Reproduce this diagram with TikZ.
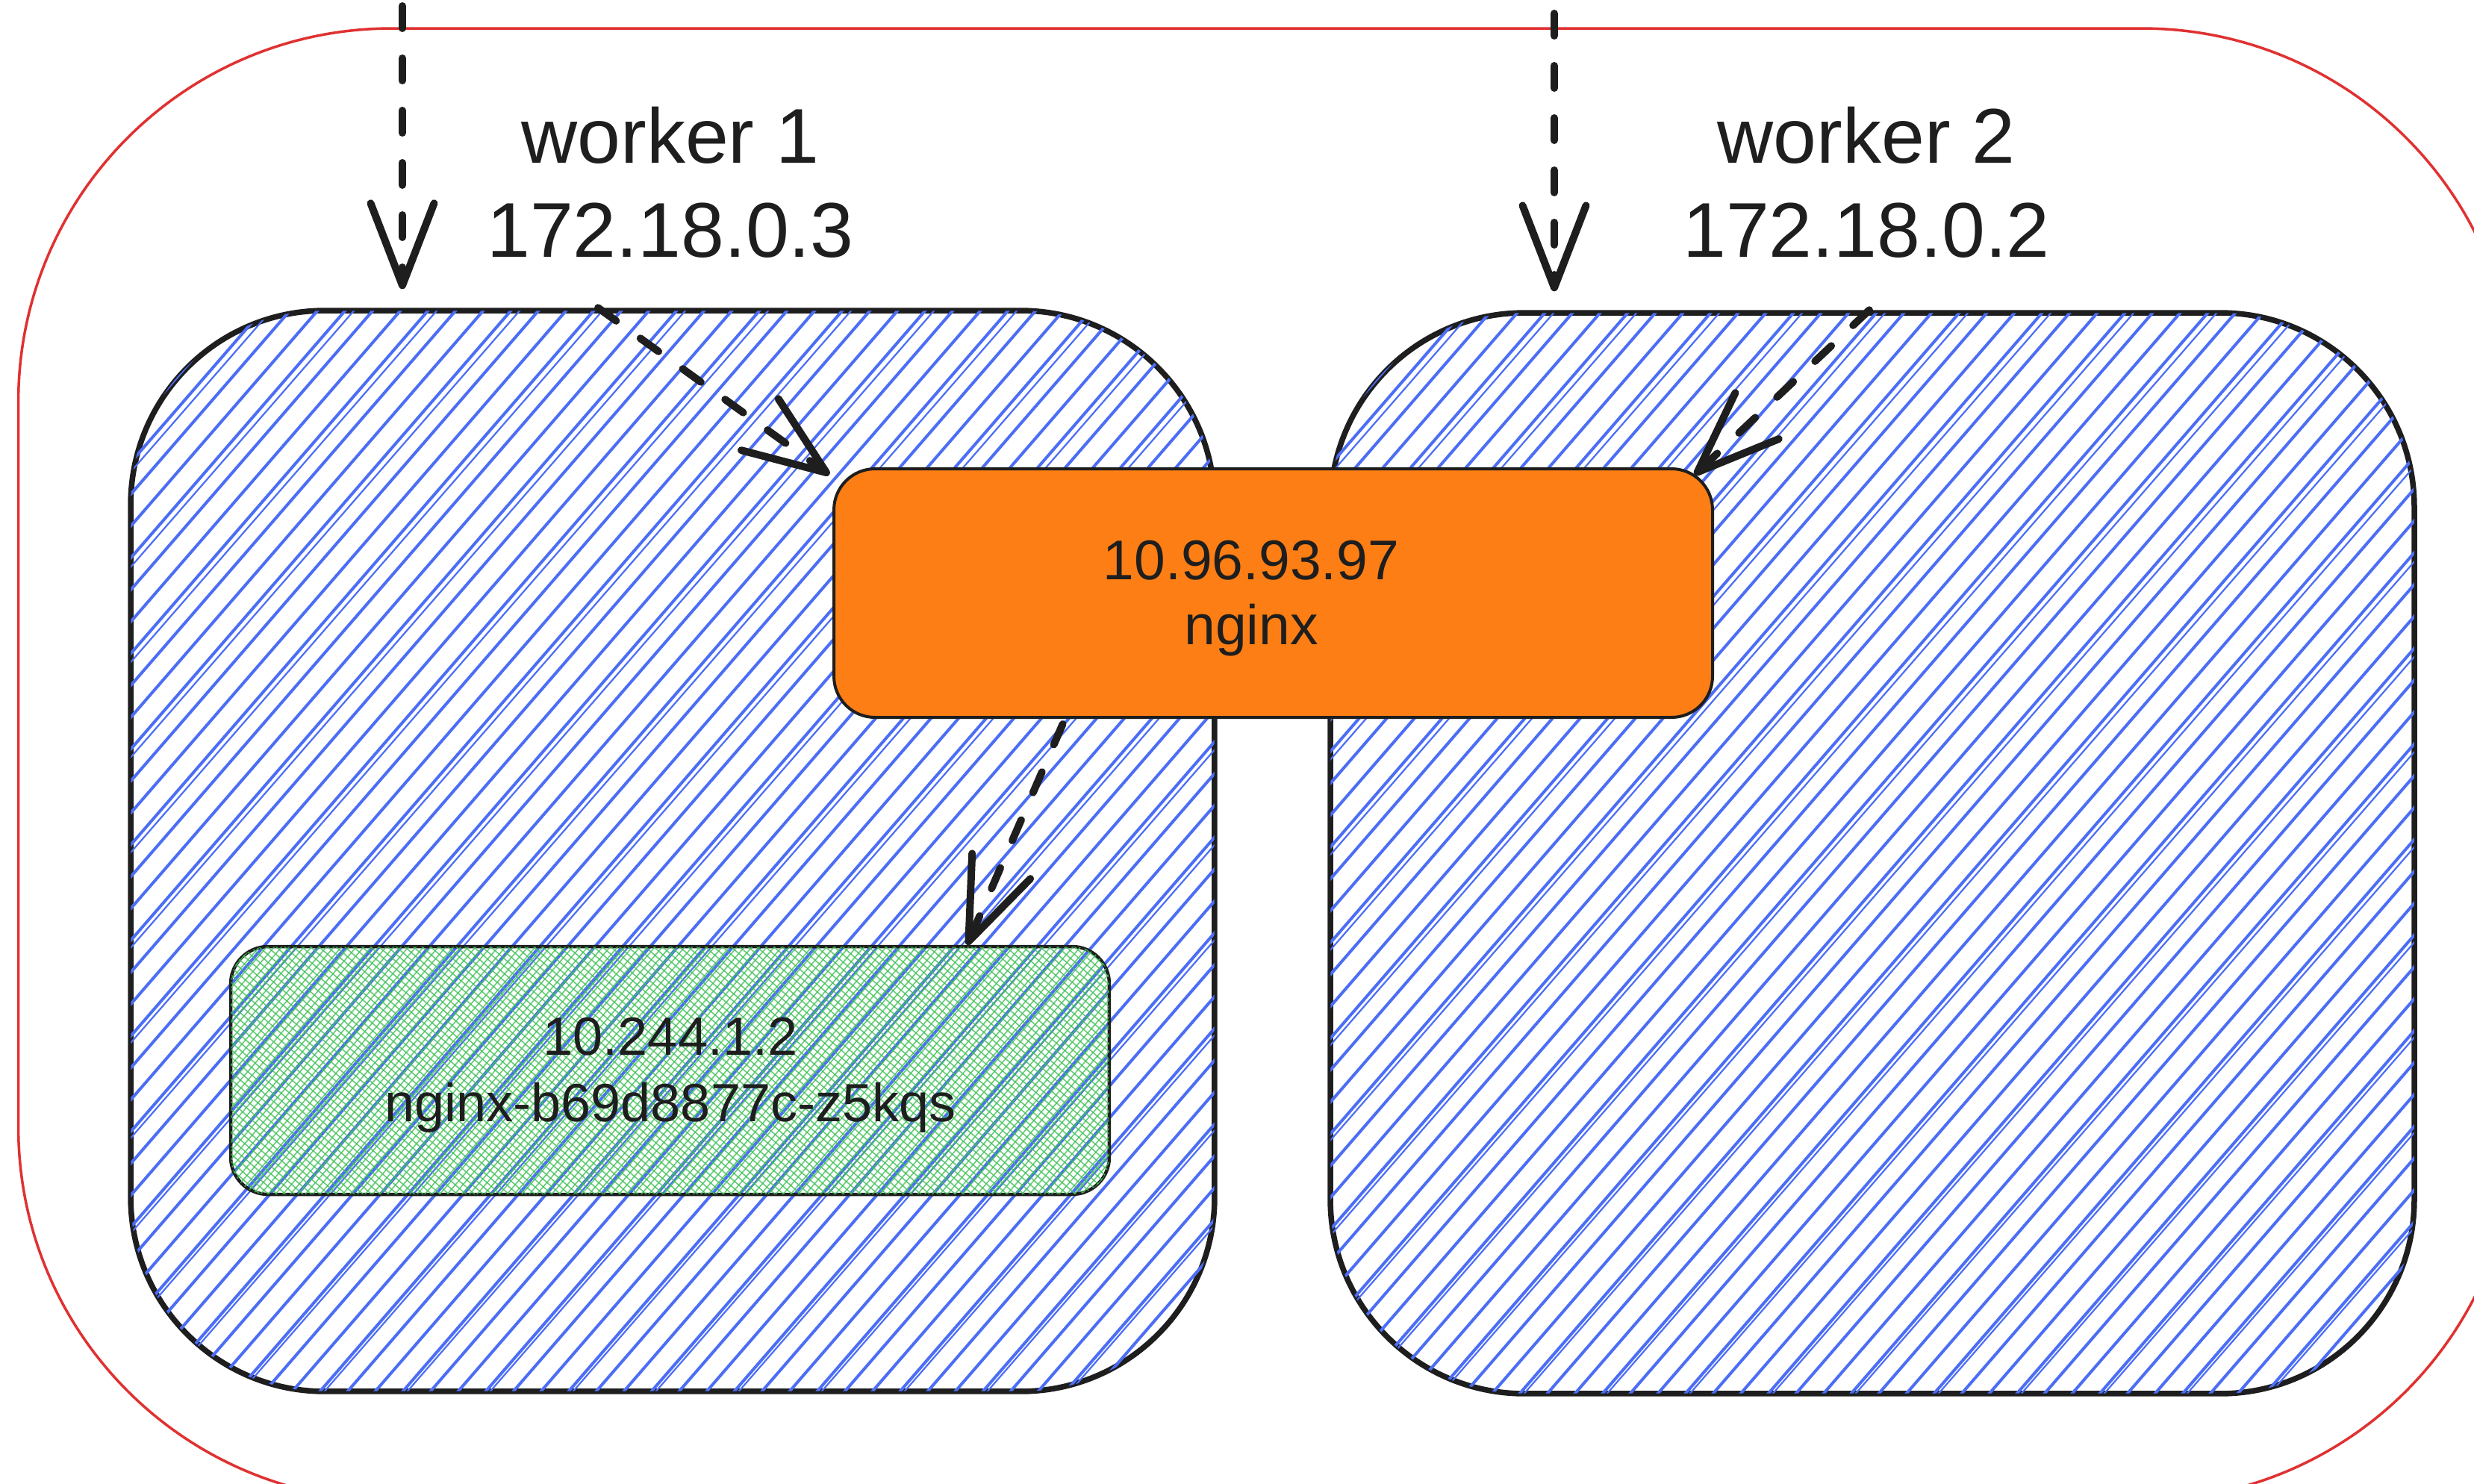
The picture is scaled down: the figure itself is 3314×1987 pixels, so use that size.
\documentclass[tikz,border=0pt]{standalone}
\usepackage{fontspec}
\setmainfont{Liberation Sans}
\usetikzlibrary{arrows.meta}
\definecolor{hatchblue}{HTML}{4C6EF5}
\definecolor{podgreen}{HTML}{40C057}
\definecolor{svcorange}{HTML}{FD7E14}
\definecolor{clusterred}{HTML}{E03131}
\definecolor{ink}{HTML}{1E1E1E}
\newcommand{\bluehatch}[1]{%
  \begin{scope}
    \clip[rounded corners=25.6pt] ([shift={(0.4pt,0.4pt)}]#1.south west) rectangle ([shift={(-0.4pt,-0.4pt)}]#1.north east);
    \begin{scope}[shift={(#1.south west)}]
      \foreach \i in {0,...,76}{\draw[blueline] (\i*37-1300,0) -- ++(1300,-1500);}
      \foreach \i in {0,...,25}{\draw[blueline, line width=0.22pt] (\i*111-1294,0) -- ++(1306,-1500);}
    \end{scope}
  \end{scope}}
\newcommand{\greenhatch}[1]{%
  \begin{scope}
    \clip[rounded corners=4.8pt] ([shift={(0.25pt,0.25pt)}]#1.south west) rectangle ([shift={(-0.25pt,-0.25pt)}]#1.north east);
    \begin{scope}[shift={(#1.south west)}]
      \foreach \i in {0,...,150}{\draw[greenline] (\i*10-300,0) -- ++(296,-340);}
    \end{scope}
    \begin{scope}[shift={(#1.north west)}]
      \foreach \i in {0,...,140}{\draw[greenline] (\i*11.5-400,0) -- ++(392,341);}
    \end{scope}
  \end{scope}}
\begin{document}
\begin{tikzpicture}[x=0.1pt,y=-0.1pt,
  clusterbox/.style={draw=clusterred, line width=0.35pt, rounded corners=50pt, minimum width=334.5pt, minimum height=197.2pt, inner sep=0pt},
  workerbox/.style={draw=ink, line width=0.75pt, rounded corners=26pt, minimum width=145.2pt, minimum height=144.8pt, inner sep=0pt},
  blueline/.style={hatchblue, line width=0.4pt},
  greenline/.style={podgreen, opacity=0.8, line width=0.16pt},
  svcbox/.style={draw=ink, line width=0.4pt, fill=svcorange, rounded corners=5.5pt, minimum width=117.7pt, minimum height=33.3pt, inner sep=0pt},
  podbox/.style={draw=ink, line width=0.45pt, rounded corners=5pt, minimum width=117.7pt, minimum height=33.2pt, inner sep=0pt},
  flow/.style={ink, line width=1pt, line cap=round, dash pattern=on 3pt off 4pt, -{Straight Barb[length=11pt,width=8.5pt,round]}},
  biglab/.style={inner sep=0pt, anchor=base, text=ink, font=\fontsize{10.4pt}{12pt}\selectfont},
  svclab/.style={inner sep=0pt, anchor=base, text=ink, font=\fontsize{7.5pt}{9pt}\selectfont},
  podlab/.style={inner sep=0pt, anchor=base, text=ink, font=\fontsize{7.2pt}{9pt}\selectfont}
]
\useasboundingbox (0,0) rectangle (3314,1987);
\clip (0,0) rectangle (3314,1987);

\node[clusterbox] (cluster) at (1697,1024) {};

\node[workerbox] (w1) at (901,1140) {};
\node[workerbox] (w2) at (2508,1143) {};
\bluehatch{w1}
\bluehatch{w2}
\node[podbox] (pod) at (897.5,1434) {};
\greenhatch{pod}
\node[svcbox] (svc) at (1705.5,794.5) {};

\node[biglab] (w1name) at (898,218) {worker 1};
\node[biglab] (w1ip) at (898,344) {172.18.0.3};
\node[biglab] (w2name) at (2500,218) {worker 2};
\node[biglab] (w2ip) at (2500,344) {172.18.0.2};

\node[svclab] (svcip) at (1676,776) {10.96.93.97};
\node[svclab] (svcname) at (1676,863) {nginx};
\node[podlab] (podip) at (898,1413) {10.244.1.2};
\node[podlab] (podname) at (898,1502) {nginx-b69d8877c-z5kqs};

\coordinate (a1s) at (539,8);
\coordinate (a2s) at (2082,18);
\draw[flow, shorten >=2.5pt] (a1s) -- (a1s |- w1.north);
\draw[flow, shorten >=2.5pt] (a2s) -- (a2s |- w2.north);
\draw[flow] ([xshift=-10pt]w1.north) -- ([xshift=-0.4pt,yshift=-1pt]svc.north west);
\draw[flow] ([xshift=-0.4pt]w2.north) -- ([xshift=-2.6pt,yshift=-1pt]svc.north east);
\draw[flow] ([xshift=-28.2pt,yshift=-0.7pt]svc.south) -- ([xshift=39.8pt]pod.north);
\end{tikzpicture}
\end{document}
